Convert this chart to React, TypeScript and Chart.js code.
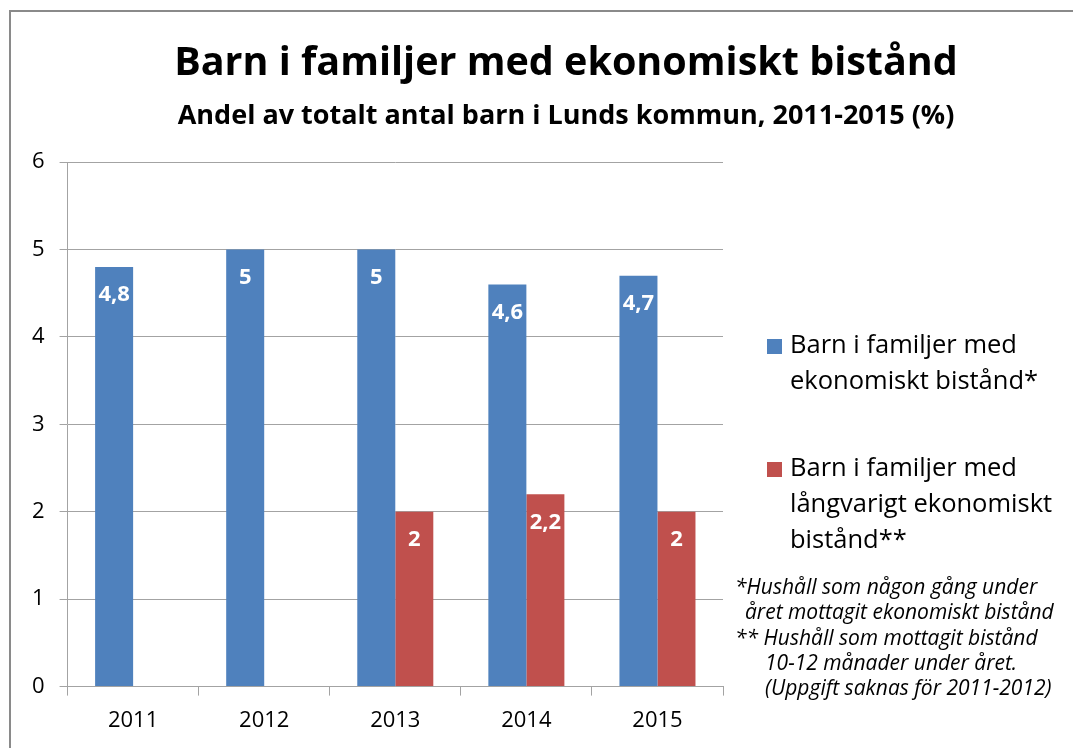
import React, { useEffect, useRef } from "react";
import { Chart, registerables } from "chart.js";

Chart.register(...registerables);

const titleText = "Barn i familjer med ekonomiskt bistånd";
const subtitleText = "Andel av totalt antal barn i Lunds kommun, 2011-2015 (%)";
const categories = ["2011", "2012", "2013", "2014", "2015"];
const seriesAll = [4.8, 5, 5, 4.6, 4.7];
const seriesLong: (number | null)[] = [null, null, 2, 2.2, 2];
const yTickValues = [0, 1, 2, 3, 4, 5, 6];
const legendAll = ["Barn i familjer med", "ekonomiskt bistånd*"];
const legendLong = ["Barn i familjer med", "långvarigt ekonomiskt", "bistånd**"];
const footnoteLines = [
  "*Hushåll som någon gång under",
  "året mottagit ekonomiskt bistånd",
  "** Hushåll som mottagit bistånd",
  "10-12 månader under året.",
  "(Uppgift saknas för 2011-2012)",
];

const BLUE = "#4F81BD";
const RED = "#C0504D";
const GRID = "#a3a3a3";
const FONT = "'Open Sans', Lato, sans-serif";

const titlePlugin = {
  id: "customTitle",
  afterDraw(chart: any) {
    const ctx = chart.ctx;
    const cx = chart.width / 2;
    ctx.save();
    ctx.fillStyle = "#000000";
    ctx.textAlign = "center";
    ctx.textBaseline = "alphabetic";
    ctx.font = `bold 39.5px ${FONT}`;
    ctx.fillText(titleText, cx, 63);
    ctx.font = `bold 27px ${FONT}`;
    ctx.fillText(subtitleText, cx, 112);
    ctx.restore();
  },
};

const dataLabelPlugin = {
  id: "dataLabels",
  afterDatasetsDraw(chart: any) {
    const ctx = chart.ctx;
    ctx.save();
    ctx.fillStyle = "#ffffff";
    ctx.font = `bold 22px ${FONT}`;
    ctx.textAlign = "center";
    ctx.textBaseline = "middle";
    chart.data.datasets.forEach((ds: any, di: number) => {
      const meta = chart.getDatasetMeta(di);
      meta.data.forEach((el: any, i: number) => {
        const v = ds.data[i];
        if (v === null || v === undefined) return;
        ctx.fillText(String(v).replace(".", ","), el.x, el.y + 28);
      });
    });
    ctx.restore();
  },
};

const legendPlugin = {
  id: "customLegend",
  afterDraw(chart: any) {
    const ctx = chart.ctx;
    const ca = chart.chartArea;
    ctx.save();
    const sqX = ca.right + 44;
    const txtX = ca.right + 67;
    const items = [
      { color: chart.data.datasets[0].backgroundColor, lines: legendAll, y: ca.top + 184 },
      { color: chart.data.datasets[1].backgroundColor, lines: legendLong, y: ca.top + 307 },
    ];
    ctx.font = `25.5px ${FONT}`;
    ctx.textBaseline = "middle";
    ctx.textAlign = "left";
    items.forEach((it) => {
      ctx.fillStyle = it.color;
      ctx.fillRect(sqX, it.y - 7, 15, 15);
      ctx.fillStyle = "#000000";
      it.lines.forEach((ln, k) => {
        ctx.fillText(ln, txtX, it.y + k * 36);
      });
    });
    const indents = [12, 22, 12, 42, 42];
    ctx.font = `italic 21px ${FONT}`;
    footnoteLines.forEach((ln, k) => {
      ctx.fillText(ln, ca.right + indents[k], ca.top + 426 + k * 25.3);
    });
    ctx.restore();
  },
};

export default function App() {
  const ref = useRef<HTMLCanvasElement | null>(null);
  useEffect(() => {
    if (!ref.current) return;
    const chart = new Chart(ref.current, {
      type: "bar",
      data: {
        labels: categories,
        datasets: [
          {
            label: legendAll.join(" "),
            data: seriesAll,
            backgroundColor: BLUE,
            borderWidth: 0,
            barPercentage: 1,
            categoryPercentage: 0.58,
          },
          {
            label: legendLong.join(" "),
            data: seriesLong,
            backgroundColor: RED,
            borderWidth: 0,
            barPercentage: 1,
            categoryPercentage: 0.58,
          },
        ],
      },
      options: {
        responsive: false,
        animation: false,
        devicePixelRatio: 1,
        layout: { padding: { left: 6, right: 398, top: 150, bottom: 2 } },
        plugins: {
          legend: { display: false },
          tooltip: { enabled: false },
          title: { display: false },
        },
        scales: {
          x: {
            grid: {
              display: true,
              drawOnChartArea: false,
              drawTicks: true,
              tickLength: 9,
              color: GRID,
              offset: true,
            },
            border: { display: true, color: GRID, width: 1 },
            ticks: {
              color: "#000000",
              font: { family: FONT, size: 22 },
              padding: 12,
            },
          },
          y: {
            min: 0,
            max: 6,
            afterBuildTicks(axis: any) {
              axis.ticks = yTickValues.map((v) => ({ value: v }));
            },
            grid: {
              color: GRID,
              drawTicks: true,
              tickLength: 8,
            },
            border: { display: true, color: GRID, width: 1 },
            ticks: {
              color: "#000000",
              font: { family: FONT, size: 22 },
              padding: 15,
            },
          },
        },
      },
      plugins: [dataLabelPlugin, legendPlugin, titlePlugin],
    });
    return () => chart.destroy();
  }, []);

  return (
    <div
      style={{
        position: "fixed",
        left: 0,
        top: 0,
        width: 1073,
        height: 748,
        overflow: "hidden",
        background: "#ffffff",
      }}
    >
      <div
        style={{
          position: "absolute",
          left: 9,
          top: 10,
          width: 1116,
          height: 800,
          border: "2px solid #8a8a8a",
          boxSizing: "border-box",
        }}
      >
        <canvas ref={ref} width={1110} height={736} style={{ display: "block" }} />
      </div>
    </div>
  );
}
